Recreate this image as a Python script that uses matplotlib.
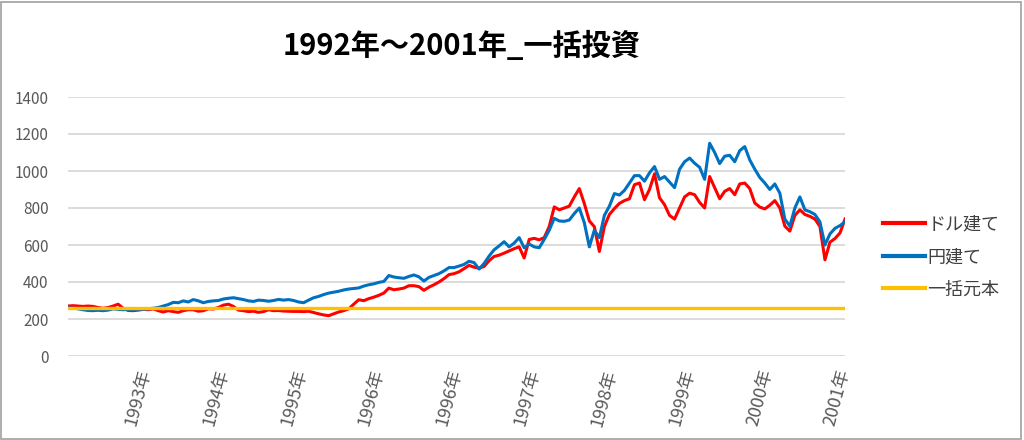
import matplotlib
matplotlib.use("Agg")
import matplotlib.pyplot as plt
from matplotlib.patches import Rectangle

plt.rcParams['font.family'] = ['Noto Sans CJK JP', 'DejaVu Sans']

title = "1992年～2001年_一括投資"
series_names = ["ドル建て", "円建て", "一括元本"]
tick_labels = ["1993年", "1994年", "1995年", "1996年", "1996年",
               "1997年", "1998年", "1999年", "2000年", "2001年"]

dollar = [270, 272, 270, 268, 270, 268, 262, 258, 262, 270,
          280, 258, 246, 245, 248, 252, 250, 255, 245, 238,
          245, 240, 236, 245, 250, 250, 242, 245, 255, 254,
          262, 275, 280, 268, 248, 245, 240, 242, 236, 240,
          250, 245, 246, 243, 242, 241, 241, 240, 242, 235,
          228, 222, 218, 228, 238, 245, 255, 280, 304, 299,
          310, 318, 328, 340, 367, 358, 362, 367, 380, 380,
          375, 355, 372, 385, 400, 418, 440, 445, 455, 472,
          490, 480, 475, 484, 515, 538, 545, 556, 568, 580,
          590, 530, 630, 636, 628, 640, 700, 806, 790, 800,
          810, 860, 905, 824, 730, 699, 565, 700, 765, 797,
          825, 840, 850, 926, 935, 845, 900, 985, 855, 818,
          760, 740, 800, 860, 880, 872, 830, 800, 970, 910,
          850, 890, 905, 872, 930, 935, 905, 827, 805, 795,
          815, 840, 800, 702, 675, 760, 790, 765, 755, 740,
          700, 520, 615, 635, 665, 740]

yen = [260, 258, 255, 250, 246, 245, 247, 245, 248, 255,
       252, 250, 252, 250, 253, 252, 255, 258, 262, 270,
       278, 290, 288, 298, 292, 305, 298, 288, 295, 298,
       300, 308, 312, 315, 310, 305, 298, 295, 302, 300,
       296, 300, 306, 302, 305, 300, 292, 288, 302, 315,
       322, 332, 340, 345, 350, 357, 362, 365, 368, 378,
       385, 390, 398, 403, 435, 427, 423, 420, 430, 438,
       428, 405, 425, 435, 445, 460, 478, 478, 486, 495,
       512, 505, 470, 500, 540, 574, 595, 618, 590, 610,
       640, 585, 605, 590, 585, 630, 680, 744, 730, 728,
       735, 770, 800, 720, 590, 680, 640, 760, 810, 878,
       870, 895, 935, 975, 975, 945, 990, 1024, 955, 970,
       940, 910, 1010, 1050, 1070, 1042, 1020, 955, 1150, 1100,
       1040, 1080, 1085, 1050, 1110, 1132, 1060, 1010, 965, 935,
       900, 930, 880, 740, 702, 800, 860, 790, 780, 765,
       725, 600, 660, 690, 705, 725]

principal = 260

colors = ["#FF0000", "#0070C0", "#FFC000"]

fig = plt.figure(figsize=(10.24, 4.4), dpi=100)
ax = fig.add_axes([68 / 1024, 1 - 356 / 440, (845 - 68) / 1024, (356 - 97) / 440])

n = len(yen)
x = list(range(n))
ax.plot(x, dollar, color=colors[0], lw=2.2, label=series_names[0], zorder=3)
ax.plot(x, yen, color=colors[1], lw=2.2, label=series_names[1], zorder=4)
ax.plot(x, [principal] * n, color=colors[2], lw=2.4, label=series_names[2], zorder=5)

ax.set_ylim(0, 1400)
ax.set_yticks(range(0, 1401, 200))
ax.set_xlim(0, n - 1)
ticks = [(n - 1) * j / len(tick_labels) for j in range(1, len(tick_labels) + 1)]
ax.set_xticks(ticks)
ax.set_xticklabels(tick_labels, rotation=75, ha='right', va='center',
                   rotation_mode='anchor', color='#595959', fontsize=13)
ax.tick_params(axis='x', length=0, pad=10)
ax.tick_params(axis='y', length=0, pad=14, labelsize=11, labelcolor='#595959')

ax.grid(axis='y', color='#D9D9D9', lw=1.3)
ax.set_axisbelow(True)
for s in ax.spines.values():
    s.set_visible(False)

fig.text(462 / 1024, 1 - 46 / 440, title, ha='center', va='center',
         fontsize=21, fontweight='bold', color='black')

leg = ax.legend(loc='center left', bbox_to_anchor=(867 / 1024, 1 - 257 / 440),
                bbox_transform=fig.transFigure, frameon=False, fontsize=13,
                handlelength=2.3, handletextpad=0.15, labelspacing=0.8)
for h in leg.get_lines():
    h.set_linewidth(3)
for t in leg.get_texts():
    t.set_color('#404040')

fig.patches.append(Rectangle((1 / 1024, 1 / 440), 1020 / 1024, 437 / 440,
                             transform=fig.transFigure, fill=False,
                             edgecolor='#A0A0A0', lw=1.2))

fig.savefig("out.png", dpi=100)
